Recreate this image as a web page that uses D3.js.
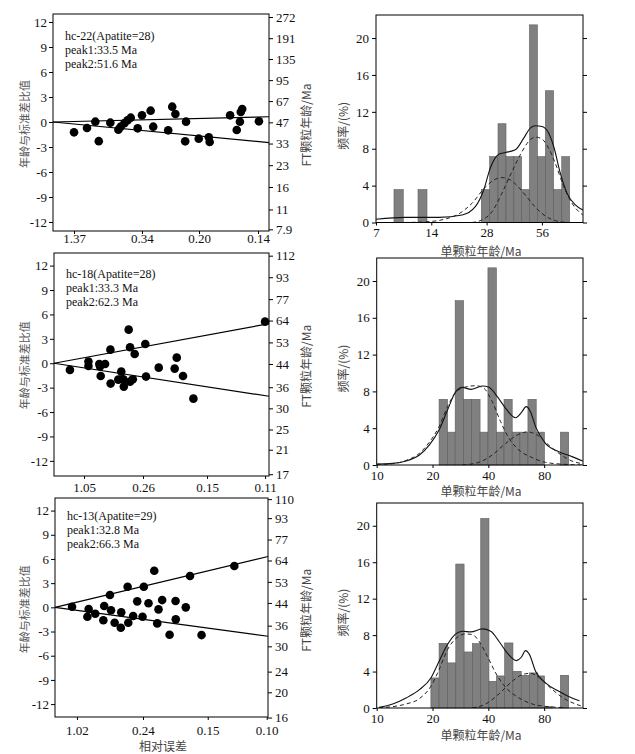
<!DOCTYPE html>
<html>
<head>
<meta charset="utf-8">
<script src="https://cdn.jsdelivr.net/npm/d3@7"></script>
<style>
  body { margin: 0; background: #fff; }
</style>
</head>
<body>
<svg id="chart" width="635" height="754"></svg>
<script>
// ---- radial plots: precision (x) and standardised estimate (z) ----
const r1Prec = [0.73, 1.18, 1.47, 1.59, 1.99, 2.27, 2.35, 2.48, 2.59, 2.70, 2.94, 3.09, 3.39, 3.48,
  4.00, 4.14, 4.25, 4.62, 4.59, 5.06, 5.41, 5.44, 6.15, 6.38, 6.49, 6.52, 6.57, 7.15];
const r1Z = [-1.24, -0.72, 0.04, -2.3, -0.08, -0.92, -0.56, -0.14, 0.2, 0.52, -0.76, 0.8, 1.36, -0.56,
  -1.0, 1.84, 0.96, 0.04, -2.32, -2.0, -1.84, -2.4, 0.8, -0.96, 0.04, 1.2, 1.56, 0.08];
const r1XTicks = [0.73, 3.09, 5.07, 7.12];
const r1XLabels = ['1.37', '0.34', '0.20', '0.14'];
const r1AgeTicks = [272, 191, 135, 95, 67, 47, 33, 23, 16, 11, 7.9];
const r1Peaks = [33.5, 51.6];
const r1Notes = ['hc-22(Apatite=28)', 'peak1:33.5 Ma', 'peak2:51.6 Ma'];

const r2Prec = [0.69, 1.49, 1.49, 1.96, 1.99, 2.21, 2.02, 2.44, 2.45, 2.78, 2.91, 3.0, 3.02, 3.23,
  3.29, 3.29, 3.41, 3.49, 3.95, 3.98, 4.53, 5.22, 5.31, 5.58, 6.03, 9.13];
const r2Z = [-0.82, 0.2, -0.33, -0.09, -0.41, -0.09, -1.56, 1.67, -2.5, -2.01, -1.03, -1.97, -2.87, 4.13,
  1.97, -2.26, -1.97, 1.14, 2.37, -1.64, -0.54, -0.66, 0.69, -1.56, -4.35, 5.11];
const r2XTicks = [1.30, 3.85, 6.62, 9.13];
const r2XLabels = ['1.05', '0.26', '0.15', '0.11'];
const r2AgeTicks = [112, 93, 77, 64, 53, 44, 36, 30, 25, 21, 17];
const r2Peaks = [33.3, 62.3];
const r2Notes = ['hc-18(Apatite=28)', 'peak1:33.3 Ma', 'peak2:62.3 Ma'];

const r3Prec = [0.80, 1.52, 1.58, 1.89, 2.27, 2.31, 2.58, 2.63, 2.80, 3.11, 3.09, 3.41, 3.44, 3.67,
  3.86, 4.11, 4.17, 4.39, 4.66, 4.80, 4.86, 5.03, 5.38, 5.66, 5.67, 6.14, 6.34, 6.88, 8.42];
const r3Z = [0.07, -1.17, -0.21, -0.79, -1.61, 0.16, 1.53, -0.37, -1.91, -0.62, -2.53, 2.56, -1.91, -1.08,
  0.74, -1.17, 2.56, 0.5, 4.54, -1.99, -0.25, 0.9, -3.4, 0.78, -1.49, 0.0, 3.88, -3.44, 5.12];
const r3XTicks = [1.03, 4.13, 7.17, 9.94];
const r3XLabels = ['1.02', '0.24', '0.15', '0.10'];
const r3AgeTicks = [110, 93, 77, 64, 53, 44, 36, 30, 24, 20, 16];
const r3Peaks = [32.8, 66.3];
const r3Notes = ['hc-13(Apatite=29)', 'peak1:32.8 Ma', 'peak2:66.3 Ma'];

const zTicks = [-12, -9, -6, -3, 0, 3, 6, 9, 12];

// ---- histograms: bin edges (Ma), frequency (%), fitted curves [age, %] ----
const h1Lo = [8.77, 11.85, 26.2, 29.1, 32.3, 35.7, 39.4, 43.4, 47.9, 52.9, 58.5, 64.8, 71.8];
const h1Hi = [9.85, 13.26, 29.1, 32.3, 35.7, 39.4, 43.4, 47.9, 52.9, 58.5, 64.8, 71.8, 79.2];
const h1Pct = [3.57, 3.57, 3.57, 7.14, 10.71, 7.14, 7.14, 3.57, 21.43, 7.14, 14.29, 3.57, 7.14];
const h1Sum = [[7, 0.35], [10.1, 0.56], [15.4, 0.56], [20.6, 0.82], [24.3, 1.72], [27.0, 3.53], [29.3, 5.89],
  [32.6, 7.41], [35.4, 7.59], [40.1, 7.88], [44.6, 9.15], [48.4, 10.24], [51.6, 10.49], [56.1, 10.41],
  [60.9, 9.7], [64.9, 8.24], [70.5, 5.35], [76.7, 3.17], [85.1, 1.9], [93.4, 1.36]];
const h1Pk1 = [[10, 0], [13.0, 0.07], [16.7, 0.38], [19.7, 0.92], [23.3, 2.08], [27.5, 3.82], [31.2, 4.69],
  [33.9, 4.87], [37.7, 4.62], [41.8, 3.82], [46.5, 2.74], [51.6, 1.65], [58.4, 0.71], [66.2, 0.2], [75, 0.02]];
const h1Pk2 = [[23.3, 0], [26.4, 0.27], [30, 1.18], [33.9, 3.17], [38.5, 5.53], [42.7, 7.34], [47.4, 8.78],
  [51.6, 9.26], [56.1, 9.04], [60.9, 8.06], [66.2, 6.43], [73.6, 3.9], [81.7, 2.08], [93.4, 0.82]];
const h1XTicks = [7, 14, 28, 56];

const h2Lo = [21.7, 24.1, 26.5, 29.4, 32.5, 36.1, 39.8, 44.2, 48.6, 53.8, 59.2, 65.4, 72.5, 97.9];
const h2Hi = [24.1, 26.5, 29.4, 32.5, 36.1, 39.8, 44.2, 48.6, 53.8, 59.2, 65.4, 72.5, 80.3, 108.5];
const h2Pct = [7.14, 3.57, 17.86, 7.14, 7.14, 3.57, 21.43, 3.57, 7.14, 3.57, 3.57, 7.14, 3.57, 3.57];
const h2Sum = [[10, 0.11], [12.2, 0.18], [14.4, 0.43], [17.0, 1.09], [19.2, 2.17], [21.7, 3.8], [24.1, 5.98],
  [26.7, 7.97], [29.0, 8.44], [32.2, 8.22], [37.1, 8.59], [40.3, 8.44], [44.7, 7.43], [49.6, 6.16],
  [56.1, 5.14], [60.4, 5.72], [64.0, 6.34], [67.5, 5.8], [71.9, 4.17], [81.3, 2.35], [96, 1.45],
  [113, 0.91], [129, 0.43]];
const h2Pk1 = [[10, 0.07], [12.2, 0.14], [14.4, 0.5], [17.0, 1.27], [19.2, 2.46], [21.7, 4.17], [24.1, 6.34],
  [26.7, 7.9], [30.2, 8.48], [34.2, 8.62], [37.9, 8.33], [42.0, 6.88], [46.6, 4.71], [51.7, 2.9],
  [58.5, 1.63], [69, 0.8], [81.3, 0.29], [104, 0.07], [129, 0]];
const h2Pk2 = [[29.0, 0], [35.6, 0.29], [42, 1.09], [49.6, 2.35], [57.3, 3.26], [64.8, 3.59], [71.9, 3.37],
  [81.3, 2.46], [96, 1.27], [113, 0.43], [129, 0.14]];
const h2XTicks = [10, 20, 40, 80];

const h3Lo = [19.6, 21.7, 24.1, 26.7, 29.6, 32.8, 36.4, 40.3, 44.2, 49.0, 54.3, 60.2, 66.7, 74.0, 80.3, 97.9];
const h3Hi = [21.7, 24.1, 26.7, 29.6, 32.8, 36.4, 40.3, 44.2, 49.0, 54.3, 60.2, 66.7, 74.0, 80.3, 88.3, 108.5];
const h3Pct = [3.3, 7.1, 4.95, 15.8, 6.15, 7.07, 20.8, 2.93, 3.52, 7.14, 4.03, 3.59, 3.85, 3.52, 0.15, 3.59];
const h3Sum = [[10.3, 0.07], [12.2, 0.44], [14.4, 1.1], [17.0, 2.01], [19.6, 3.3], [21.7, 5.13], [24.1, 6.96],
  [26.7, 8.13], [29.0, 8.42], [32.2, 8.35], [37.1, 8.68], [41.2, 8.42], [45.6, 7.33], [50.6, 6.04],
  [56.6, 5.2], [60.2, 5.57], [63.5, 6.3], [66.7, 5.86], [71.9, 4.03], [81.3, 2.75], [96, 1.83],
  [113, 1.1], [124, 0.8]];
const h3Pk1 = [[10.3, 0.04], [12.2, 0.15], [14.4, 0.44], [17.0, 1.03], [19.6, 2.38], [21.7, 4.21], [24.1, 6.41],
  [26.7, 7.62], [30.2, 8.13], [32.8, 8.06], [35.6, 7.33], [39.5, 5.68], [43.8, 3.85], [49.6, 2.27],
  [58.5, 1.1], [69, 0.44], [81.3, 0.18], [104, 0.04]];
const h3Pk2 = [[32.8, 0], [38.7, 0.44], [45.6, 1.54], [53.8, 2.93], [60.9, 3.66], [67.5, 3.81], [74.9, 3.37],
  [84.7, 2.38], [100, 1.18], [118, 0.44], [129, 0.18]];
const h3XTicks = [10, 20, 40, 80];

const pctTicks = [0, 4, 8, 12, 16, 20];

const serif = '"Liberation Serif", "Times New Roman", serif';
const cjk = '"Noto Sans CJK SC", sans-serif';
const svg = d3.select('#chart');

function styleAxis(g, size) {
  g.select('.domain').remove();
  g.selectAll('.tick line').attr('stroke', '#000');
  g.selectAll('.tick text').attr('font-family', serif).attr('font-size', size).attr('fill', '#111');
}

function vText(x, y, str, size, color) {
  svg.append('text')
    .attr('transform', `translate(${x},${y}) rotate(-90)`)
    .attr('text-anchor', 'middle')
    .attr('dominant-baseline', 'central')
    .attr('font-family', cjk)
    .attr('font-size', size)
    .attr('fill', color)
    .text(str);
}

function radial(c) {
  const b = c.box;
  const x = d3.scaleLinear().domain([0, c.precMax]).range([b.left, b.right]);
  const y = d3.scaleLinear().domain(c.zDom).range([b.bottom, b.top]);
  const age = d3.scaleLog().domain(c.ageDom).range([y(c.ageSpan[0]), y(c.ageSpan[1])]);
  const g = svg.append('g');

  g.append('g')
    .attr('transform', `translate(${b.left},0)`)
    .call(d3.axisLeft(y).tickValues(zTicks).tickFormat(d => String(d)).tickSize(4).tickPadding(2))
    .call(a => styleAxis(a, 13));

  g.append('g')
    .attr('transform', `translate(${b.right},0)`)
    .call(d3.axisRight(age).tickValues(c.ageTicks).tickFormat(d => String(d)).tickSize(4).tickPadding(3))
    .call(a => styleAxis(a, 13));

  g.append('g')
    .attr('transform', `translate(0,${b.bottom})`)
    .call(d3.axisBottom(x).tickValues(c.xTicks).tickFormat((d, i) => c.xLabels[i]).tickSize(3))
    .call(a => styleAxis(a, 13))
    .call(a => a.selectAll('.tick text').attr('y', c.labelDy).attr('dy', '0.35em'));

  g.append('rect')
    .attr('x', b.left).attr('y', b.top)
    .attr('width', b.right - b.left).attr('height', b.bottom - b.top)
    .attr('fill', 'none').attr('stroke', '#000').attr('stroke-width', 1);

  // lines from the origin to each peak age on the age scale
  g.selectAll('line.peak')
    .data(c.peaks)
    .join('line')
    .attr('x1', x(0)).attr('y1', y(0))
    .attr('x2', x(c.precMax)).attr('y2', d => age(d))
    .attr('stroke', '#000').attr('stroke-width', 1.2);

  g.selectAll('circle')
    .data(c.prec.map((p, i) => [p, c.z[i]]))
    .join('circle')
    .attr('cx', d => x(d[0]))
    .attr('cy', d => y(d[1]))
    .attr('r', 4.3)
    .attr('fill', '#000');

  g.selectAll('text.note')
    .data(c.notes)
    .join('text')
    .attr('class', 'note')
    .attr('x', b.left + 12)
    .attr('y', (d, i) => c.noteY + i * 13.8)
    .attr('font-family', serif)
    .attr('font-size', 12)
    .attr('fill', '#111')
    .text(d => d);

  vText(24, y(0) + 2, '年龄与标准差比值', 11, '#555');
  vText(305, y(0) + 3, 'FT颗粒年龄/Ma', 12, '#444');
}

function hist(c, id) {
  const b = c.box;
  const x = d3.scaleLog().domain(c.xDom).range([b.left, b.right]);
  const y = d3.scaleLinear().domain([0, 22.5]).range([b.bottom, b.top]);
  const g = svg.append('g');

  svg.append('clipPath').attr('id', 'clip' + id)
    .append('rect')
    .attr('x', b.left).attr('y', b.top)
    .attr('width', b.right - b.left).attr('height', b.bottom - b.top);

  g.selectAll('rect.bar')
    .data(c.pct.map((p, i) => ({ lo: c.lo[i], hi: c.hi[i], p })))
    .join('rect')
    .attr('class', 'bar')
    .attr('x', d => x(d.lo))
    .attr('y', d => y(d.p))
    .attr('width', d => x(d.hi) - x(d.lo))
    .attr('height', d => y(0) - y(d.p))
    .attr('fill', '#808080')
    .attr('stroke', '#5c5c5c')
    .attr('stroke-width', 0.6);

  const line = d3.line()
    .x(d => x(d[0]))
    .y(d => y(d[1]))
    .curve(d3.curveMonotoneX);

  const curves = g.append('g').attr('clip-path', `url(#clip${id})`);
  curves.append('path').datum(c.sum)
    .attr('d', line).attr('fill', 'none').attr('stroke', '#111').attr('stroke-width', 1.1);
  curves.selectAll('path.pk')
    .data(c.peaks)
    .join('path')
    .attr('class', 'pk')
    .attr('d', line)
    .attr('fill', 'none').attr('stroke', '#222').attr('stroke-width', 1)
    .attr('stroke-dasharray', '4,3');

  g.append('g')
    .attr('transform', `translate(${b.left},0)`)
    .call(d3.axisLeft(y).tickValues(pctTicks).tickFormat(d => String(d)).tickSize(4).tickPadding(3))
    .call(a => styleAxis(a, 13));

  g.append('g')
    .attr('transform', `translate(${b.right},0)`)
    .call(d3.axisRight(y).tickValues(pctTicks).tickFormat('').tickSize(4))
    .call(a => styleAxis(a, 13));

  g.append('g')
    .attr('transform', `translate(0,${b.bottom})`)
    .call(d3.axisBottom(x).tickValues(c.xTicks).tickFormat(d => String(d)).tickSize(3))
    .call(a => styleAxis(a, 13))
    .call(a => a.selectAll('.tick text').attr('y', c.labelDy).attr('dy', '0.35em'));

  g.append('rect')
    .attr('x', b.left).attr('y', b.top)
    .attr('width', b.right - b.left).attr('height', b.bottom - b.top)
    .attr('fill', 'none').attr('stroke', '#000').attr('stroke-width', 1);

  vText(342, (b.top + b.bottom) / 2 + 7, '频率/(%)', 12, '#444');
  svg.append('text')
    .attr('x', 481).attr('y', c.titleY)
    .attr('text-anchor', 'middle')
    .attr('dominant-baseline', 'central')
    .attr('font-family', cjk)
    .attr('font-size', 12)
    .attr('fill', '#444')
    .text('单颗粒年龄/Ma');
}

radial({
  box: { left: 53, right: 269, top: 14, bottom: 231 },
  zDom: [-13.08, 12.96], precMax: 7.5,
  prec: r1Prec, z: r1Z, xTicks: r1XTicks, xLabels: r1XLabels,
  ageDom: [7.9, 272], ageSpan: [-12.88, 12.6], ageTicks: r1AgeTicks,
  peaks: r1Peaks, notes: r1Notes, noteY: 40, labelDy: 7
});
radial({
  box: { left: 54, right: 269, top: 253, bottom: 476 },
  zDom: [-13.86, 13.55], precMax: 9.3,
  prec: r2Prec, z: r2Z, xTicks: r2XTicks, xLabels: r2XLabels,
  ageDom: [17, 112], ageSpan: [-13.64, 13.22], ageTicks: r2AgeTicks,
  peaks: r2Peaks, notes: r2Notes, noteY: 278, labelDy: 11
});
radial({
  box: { left: 55, right: 268, top: 498, bottom: 717 },
  zDom: [-13.6, 13.56], precMax: 10,
  prec: r3Prec, z: r3Z, xTicks: r3XTicks, xLabels: r3XLabels,
  ageDom: [16, 110], ageSpan: [-13.67, 13.42], ageTicks: r3AgeTicks,
  peaks: r3Peaks, notes: r3Notes, noteY: 520, labelDy: 13
});

svg.append('text')
  .attr('x', 163).attr('y', 745)
  .attr('text-anchor', 'middle')
  .attr('dominant-baseline', 'central')
  .attr('font-family', cjk)
  .attr('font-size', 12)
  .attr('fill', '#444')
  .text('相对误差');

hist({
  box: { left: 376, right: 583, top: 15, bottom: 222.5 },
  xDom: [7, 93.7], xTicks: h1XTicks,
  lo: h1Lo, hi: h1Hi, pct: h1Pct, sum: h1Sum, peaks: [h1Pk1, h1Pk2],
  labelDy: 10, titleY: 250
}, 1);
hist({
  box: { left: 376.7, right: 583, top: 258, bottom: 465 },
  xDom: [10, 129.6], xTicks: h2XTicks,
  lo: h2Lo, hi: h2Hi, pct: h2Pct, sum: h2Sum, peaks: [h2Pk1, h2Pk2],
  labelDy: 10, titleY: 490
}, 2);
hist({
  box: { left: 376.7, right: 583, top: 503, bottom: 708 },
  xDom: [10, 129.6], xTicks: h3XTicks,
  lo: h3Lo, hi: h3Hi, pct: h3Pct, sum: h3Sum, peaks: [h3Pk1, h3Pk2],
  labelDy: 10, titleY: 734
}, 3);
</script>
</body>
</html>
